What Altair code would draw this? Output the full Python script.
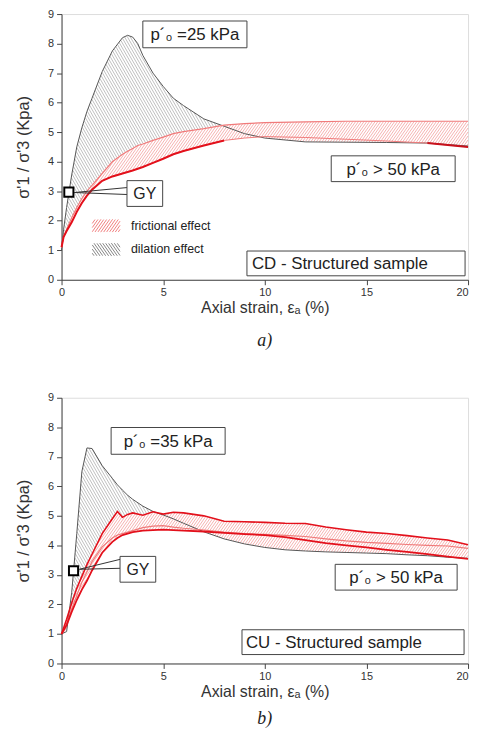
import math
import numpy as np
import altair as alt
import pandas as pd

# ---------------- data ----------------
# Panel a) CD - structured sample
a_strain = [0, 0.1, 0.25, 0.5, 0.75, 1.0, 1.25, 1.5, 2.0, 2.5, 3.0, 3.25, 3.5, 3.75, 4.0,
            4.5, 5.0, 5.5, 6.0, 7.0, 8.0, 9.0, 10, 12, 14, 16, 18, 20]
a_dilation = [1.0, 1.7, 2.45, 3.55, 4.5, 5.15, 5.7, 6.15, 7.05, 7.75, 8.2, 8.28, 8.22, 8.0, 7.6,
              7.0, 6.55, 6.15, 5.9, 5.45, 5.2, 4.95, 4.8, 4.67, 4.66, 4.65, 4.63, 4.53]
a_fric_top = [1.1, 1.45, 1.7, 2.1, 2.45, 2.75, 3.0, 3.2, 3.6, 4.0, 4.25, 4.35, 4.45, 4.55, 4.6,
              4.72, 4.83, 4.95, 5.02, 5.12, 5.24, 5.29, 5.32, 5.35, 5.37, 5.37, 5.37, 5.37]
a_fric_low = [1.1, 1.45, 1.65, 1.95, 2.3, 2.6, 2.85, 3.05, 3.35, 3.5, 3.6, 3.65, 3.7, 3.76, 3.82,
              3.96, 4.1, 4.25, 4.36, 4.55, 4.72, 4.8, 4.85, 4.82, 4.76, 4.7, 4.63, 4.5]
a_gy = [0.36, 2.97]

# Panel b) CU - structured sample
b_strain = [0, 0.25, 0.5, 0.75, 1.0, 1.25, 1.5, 2.0, 2.5, 2.75, 3.0, 3.25, 3.5, 4.0, 4.5, 5.0,
            5.5, 6.0, 7.0, 8.0, 9.0, 10, 11, 12, 13, 14, 15, 16, 17, 18, 19, 20]
b_dilation = [1.0, 1.08, 2.4, 4.4, 6.5, 7.3, 7.28, 6.7, 6.27, 6.05, 5.87, 5.7, 5.56, 5.33, 5.15, 5.03,
              4.9, 4.75, 4.46, 4.22, 4.05, 3.93, 3.85, 3.81, 3.78, 3.76, 3.74, 3.72, 3.68, 3.65, 3.6, 3.56]
b_fric_top = [1.0, 1.5, 2.05, 2.55, 2.95, 3.35, 3.7, 4.4, 4.9, 5.15, 4.95, 5.05, 5.1, 5.02, 5.14, 5.06,
              5.12, 5.1, 5.0, 4.82, 4.8, 4.78, 4.75, 4.74, 4.62, 4.53, 4.45, 4.4, 4.33, 4.25, 4.18, 4.02]
b_fric_mid = [1.0, 1.35, 1.85, 2.3, 2.75, 3.1, 3.45, 3.95, 4.25, 4.35, 4.4, 4.45, 4.5, 4.6, 4.65, 4.67,
              4.62, 4.58, 4.52, 4.45, 4.4, 4.37, 4.34, 4.3, 4.22, 4.15, 4.1, 4.07, 4.03, 4.0, 3.98, 3.9]
b_fric_low = [1.0, 1.3, 1.75, 2.15, 2.5, 2.8, 3.15, 3.75, 4.12, 4.25, 4.35, 4.4, 4.45, 4.5, 4.52, 4.53,
              4.52, 4.5, 4.47, 4.42, 4.38, 4.35, 4.28, 4.18, 4.08, 4.0, 3.93, 3.85, 3.78, 3.7, 3.62, 3.54]
b_gy = [0.59, 3.14]

x_ticks = [0, 5, 10, 15, 20]
y_ticks = [0, 1, 2, 3, 4, 5, 6, 7, 8, 9]

# ---------------- styling ----------------
W, H = 410, 268
FONT = "Liberation Sans"
X_MAX, Y_MAX = 20, 9
GRAY_HATCH = "#959595"
RED_HATCH = "#f29090"


def to_px(x, y):
    return np.asarray(x, float) * W / X_MAX, H - np.asarray(y, float) * H / Y_MAX


def to_data(px, py):
    return px * X_MAX / W, (H - py) * Y_MAX / H


def hatch_region(gx, glo, gup, slope, spacing=3.0, angle=58):
    """Hatch segments (screen px) between screen curves gup (top) and glo (bottom)."""
    t = math.tan(math.radians(angle))
    dc = spacing / math.cos(math.radians(angle))
    sgn = -1.0 if slope == "/" else 1.0
    cvals_lo = glo - sgn * t * gx
    cvals_up = gup - sgn * t * gx
    cmin, cmax = min(cvals_lo.min(), cvals_up.min()), max(cvals_lo.max(), cvals_up.max())
    segs = []
    for c in np.arange(cmin, cmax, dc):
        y = c + sgn * t * gx
        inside = (y >= gup) & (y <= glo) & ((glo - gup) > 0.4)
        if not inside.any():
            continue
        d = np.diff(np.concatenate([[0], inside.astype(int), [0]]))
        starts = np.where(d == 1)[0]
        ends = np.where(d == -1)[0] - 1
        for s, e in zip(starts, ends):
            if e > s:
                segs.append((gx[s], y[s], gx[e], y[e]))
    return segs


def hatch_between(xs, upper, lowers, slope, **kw):
    gx = np.arange(0, W + 0.001, 0.25)
    X, Yu = to_px(xs, upper)
    gup = np.interp(gx, X, Yu)
    glo = None
    for low in lowers:
        _, Yl = to_px(xs, low)
        g = np.interp(gx, X, Yl)
        glo = g if glo is None else np.maximum(glo, g)  # screen coords: larger = lower value
    segs = hatch_region(gx, glo, gup, slope, **kw)
    rows = []
    for x1, y1, x2, y2 in segs:
        a1, b1 = to_data(x1, y1)
        a2, b2 = to_data(x2, y2)
        rows.append({"x1": a1, "y1": b1, "x2": a2, "y2": b2})
    return pd.DataFrame(rows)


def hatch_rect(x0, y0, x1, y1, slope, **kw):
    gx = np.arange(x0, x1 + 0.001, 0.25)
    glo = np.full_like(gx, y1)
    gup = np.full_like(gx, y0)
    segs = hatch_region(gx - x0, glo, gup, slope, **kw)
    rows = []
    for a, b, c, d in segs:
        p1 = to_data(a + x0, b)
        p2 = to_data(c + x0, d)
        rows.append({"x1": p1[0], "y1": p1[1], "x2": p2[0], "y2": p2[1]})
    return pd.DataFrame(rows)


XS = alt.Scale(domain=[0, X_MAX], nice=False)
YS = alt.Scale(domain=[0, Y_MAX], nice=False)

X_AXIS = alt.Axis(values=x_ticks, title="Axial strain, εₐ (%)", grid=False, tickSize=5,
                  labelFontSize=11, titleFontSize=16, titleFontWeight="normal",
                  domainColor="#444", tickColor="#444", labelColor="#333", titleColor="#333",
                  labelPadding=2, titlePadding=2, labelFont=FONT, titleFont=FONT,
                  labelAlign={"condition": {"test": "datum.value >= 20", "value": "right"},
                              "value": "center"})
Y_AXIS = alt.Axis(values=y_ticks, title="σ'1 / σ'3  (Kpa)", grid=False, tickSize=5,
                  labelFontSize=11, titleFontSize=16.5, titleFontWeight="normal",
                  domainColor="#444", tickColor="#444", labelColor="#333", titleColor="#333",
                  labelPadding=3, titlePadding=16, labelFont=FONT, titleFont=FONT)


def X(f="strain"):
    return alt.X(f"{f}:Q", scale=XS, axis=X_AXIS)


def Y(field):
    return alt.Y(f"{field}:Q", scale=YS, axis=Y_AXIS)


ONE = pd.DataFrame({"k": [0]})


def hatch_layer(df, color, width=0.8):
    return alt.Chart(df).mark_rule(color=color, strokeWidth=width).encode(
        x=X("x1"), y=Y("y1"), x2="x2:Q", y2="y2:Q")


def box(x0, y0, x1, y1, label, size=17, left=None):
    r = alt.Chart(ONE).mark_rect(fill="white", stroke="#444", strokeWidth=1).encode(
        x=alt.value(x0), x2=alt.value(x1), y=alt.value(y0), y2=alt.value(y1))
    if left is None:
        t = alt.Chart(ONE).mark_text(text=label, font=FONT, fontSize=size, color="#222",
                                     align="center", baseline="middle").encode(
            x=alt.value((x0 + x1) / 2), y=alt.value((y0 + y1) / 2 + 1))
    else:
        t = alt.Chart(ONE).mark_text(text=label, font=FONT, fontSize=size, color="#222",
                                     align="left", baseline="middle").encode(
            x=alt.value(left), y=alt.value((y0 + y1) / 2 + 1))
    return [r, t]


def connector(sx, sy, bx, by1, by2):
    return [alt.Chart(ONE).mark_rule(color="#333", strokeWidth=1).encode(
        x=alt.value(sx), y=alt.value(sy), x2=alt.value(bx), y2=alt.value(by))
        for by in (by1, by2)]


def gy_point(gy):
    d = pd.DataFrame({"strain": [gy[0]], "r": [gy[1]]})
    return alt.Chart(d).mark_point(shape="square", size=85, filled=True, fill="white",
                                   stroke="black", strokeWidth=2, opacity=1).encode(
        x=X(), y=Y("r"))


def line(df, field, color, width, filt=None):
    c = alt.Chart(df)
    if filt:
        c = c.transform_filter(filt)
    return c.mark_line(color=color, strokeWidth=width).encode(x=X(), y=Y(field))


def caption(s, off):
    return alt.TitleParams(s, orient="bottom", font="Liberation Serif", fontStyle="italic",
                           fontSize=18, fontWeight="normal", color="#222", offset=off, anchor="middle")


# ---------------- panel a ----------------
dfa = pd.DataFrame({"strain": a_strain, "dil": a_dilation, "top": a_fric_top, "low": a_fric_low})
hatch_gray_a = hatch_between(a_strain, a_dilation, [a_fric_top], "\\", spacing=2.5, angle=60)
hatch_red_a = hatch_between(a_strain, a_fric_top, [a_fric_low, a_dilation], "/", spacing=2.3, angle=55)

legend_layers = [
    hatch_layer(hatch_rect(31, 207, 59, 220, "/", spacing=2.4, angle=55), "#ee7070", 0.9),
    hatch_layer(hatch_rect(31, 231, 59, 244, "\\", spacing=2.4, angle=55), "#777777", 0.9),
    alt.Chart(ONE).mark_text(text="frictional effect", font=FONT, fontSize=12.5, color="#222",
                             align="left", baseline="middle").encode(x=alt.value(70), y=alt.value(214)),
    alt.Chart(ONE).mark_text(text="dilation effect", font=FONT, fontSize=12.5, color="#222",
                             align="left", baseline="middle").encode(x=alt.value(70), y=alt.value(237)),
]

panel_a = alt.layer(
    hatch_layer(hatch_gray_a, GRAY_HATCH, 0.6),
    hatch_layer(hatch_red_a, RED_HATCH, 0.7),
    line(dfa, "dil", "#555555", 1),
    line(dfa, "top", "#f07a7a", 1.2),
    line(dfa, "low", "#f07a7a", 1),
    line(dfa, "low", "#e3101b", 2, "datum.strain <= 8"),
    line(dfa, "low", "#c8101b", 2, "datum.strain >= 18"),
    *legend_layers,
    *connector(13, 180, 66, 175, 182),
    gy_point(a_gy),
    *box(82, 7, 187, 34, "p´₀ =25 kPa"),
    *box(66, 168, 102, 194, "GY", 16),
    *box(272, 143, 397, 169, "p´₀ > 50 kPa"),
    *box(187, 239, 407, 264, "CD - Structured sample", 17, left=192),
).properties(width=W, height=H, title=caption("a)", 17))

# ---------------- panel b ----------------
dfb = pd.DataFrame({"strain": b_strain, "dil": b_dilation, "top": b_fric_top,
                    "mid": b_fric_mid, "low": b_fric_low})
hatch_gray_b = hatch_between(b_strain, b_dilation, [b_fric_top], "\\", spacing=2.5, angle=60)
hatch_red_b = hatch_between(b_strain, b_fric_top, [b_fric_low, b_dilation], "/", spacing=2.3, angle=55)

panel_b = alt.layer(
    hatch_layer(hatch_gray_b, GRAY_HATCH, 0.6),
    hatch_layer(hatch_red_b, RED_HATCH, 0.7),
    line(dfb, "dil", "#555555", 1),
    line(dfb, "mid", "#f07a7a", 1.2),
    line(dfb, "low", "#e3101b", 1.8),
    line(dfb, "top", "#e3101b", 1.6),
    *connector(18, 173, 59, 163, 172),
    gy_point(b_gy),
    *box(50, 30, 165, 57, "p´₀ =35 kPa"),
    *box(59, 160, 95, 186, "GY", 16),
    *box(276, 168, 399, 194, "p´₀ > 50 kPa"),
    *box(182, 234, 406, 259, "CU - Structured sample", 17, left=186),
).properties(width=W, height=H, title=caption("b)", 11))

chart = alt.vconcat(panel_a, panel_b, spacing=40).properties(
    padding={"left": 7, "top": -4, "right": 0, "bottom": 0}
).configure_view(stroke=None).configure(background="white")

chart.save("out.html", embed_options={"renderer": "svg", "actions": False})
